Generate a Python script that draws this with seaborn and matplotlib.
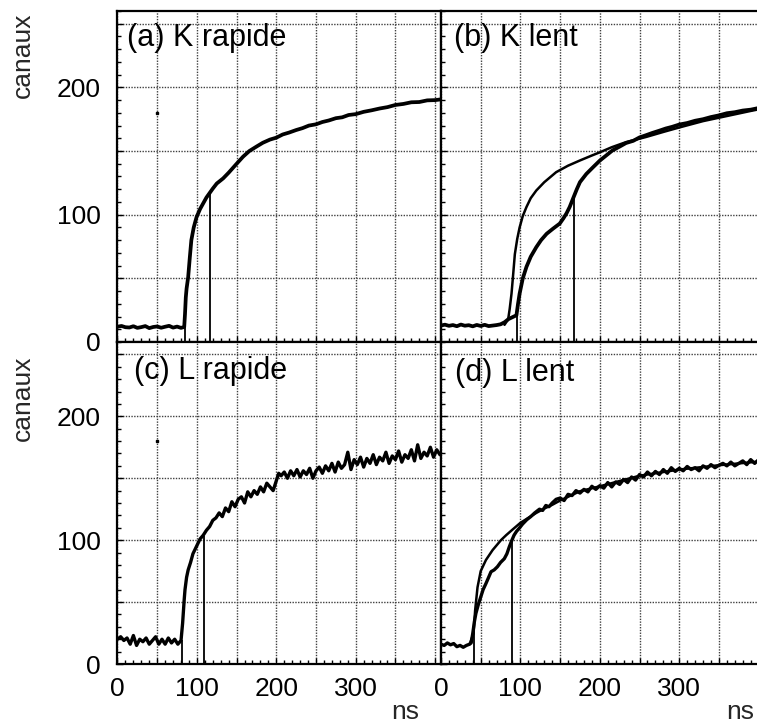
import numpy as np
import pandas as pd
import matplotlib
matplotlib.use("Agg")
import matplotlib.pyplot as plt
from matplotlib.ticker import MultipleLocator, FuncFormatter
import seaborn as sns

# ---------------- data ----------------
# (a) K rapide : measured signal
a_t = [0, 5, 10, 15, 20, 25, 30, 35, 40, 45, 50, 55, 60, 65, 70, 75, 80, 84,
       85, 86, 87, 89, 91, 93, 96, 99.5, 104, 108, 112, 116, 120, 125, 133, 140,
       150, 158, 166, 175, 183, 192, 200, 208, 216, 225, 233, 241, 250, 258, 266,
       275, 283, 291, 300, 310, 320, 330, 340, 350, 360, 370, 380, 390, 400, 410]
a_y = [12.0, 12.6, 11.6, 11.4, 12.4, 11.1, 11.7, 12.5, 10.9, 11.8, 12.2, 11.2, 12.0, 12.7, 11.3, 12.1, 11.1, 11.8,
       22, 35, 42, 51, 66, 80, 90, 98, 104.5, 109, 113.5, 117, 120.5, 124.5, 128.5, 133,
       140, 145.5, 150, 153.5, 156.5, 159, 160.5, 163, 164.5, 166.5, 168, 170, 171, 172.8, 174,
       175.8, 176.5, 178.3, 179, 180.8, 182, 183.4, 184.5, 186.2, 187, 188.3, 188.5, 189.8, 190, 190.8]
a_marks_t = [84.8, 116]
a_marks_y = [11.8, 117]

# (b) K lent : measured signal and fit
b_t = [0, 5, 10, 15, 20, 25, 30, 35, 40, 45, 50, 55, 60, 65, 70, 75, 80, 85, 90, 95,
       97, 99, 103, 107.6, 113, 120, 126, 133, 141, 149.5, 154, 158, 162, 167, 171, 175,
       183, 191, 200, 208, 216, 225, 233, 242, 250, 258, 266, 275, 283, 291, 300, 310,
       320, 330, 340, 350, 360, 370, 380, 390, 400, 410]
b_y = [13.0, 13.6, 12.7, 13.3, 12.4, 13.7, 12.8, 13.2, 12.3, 13.4, 12.6, 13.5, 12.5, 12.9, 13.3, 13.9, 15.5, 18, 19.5, 21,
       30, 38, 50, 59, 67, 74.5, 80, 85, 89, 93, 97, 101, 106, 113.8, 120, 125.6,
       132, 137, 142.5, 146.5, 150.5, 153.5, 156.3, 158, 160.7, 162.4, 164.2, 166, 167.7, 169, 170.8, 172,
       173.8, 175, 176.7, 178, 179.7, 180.5, 181.8, 182.5, 183.8, 184.5]
b_fit_t = [80, 84.6, 86.5, 88.8, 91, 93, 96, 99, 103, 107.6, 113, 120, 130, 145, 160, 175,
           190, 200, 215, 233, 258, 280, 300, 330, 360, 390, 410]
b_fit_y = [13.5, 18, 26, 38, 54, 69, 81, 90, 99, 106, 113, 119, 125.5, 133.4, 138.5, 142.6,
           146.5, 149, 153, 157, 161, 165, 168.5, 173.5, 177.5, 181.5, 184]
b_marks_t = [96.3, 167]
b_marks_y = [21, 113.8]

# (c) L rapide : measured signal
c_t = [0, 4, 8, 12, 16, 20, 24, 28, 32, 36, 40, 44, 48, 52, 56, 60, 64, 68, 72, 76, 80,
       82, 84, 85, 87, 89, 92, 95, 98, 101, 104, 108, 112, 116, 120, 124, 128, 132, 136,
       140, 144, 148, 152, 156, 160, 164, 168, 172, 176, 180, 184, 188, 192, 196, 200,
       203, 206, 210, 214, 218, 222, 226, 230, 234, 238, 242, 246, 250, 254, 258, 262,
       266, 270, 274, 278, 282, 286, 290, 294, 298, 302, 306, 310, 314, 318, 322, 326,
       330, 334, 338, 342, 346, 350, 354, 358, 362, 366, 370, 374, 378, 382, 386, 390,
       394, 398, 402, 406, 410]
c_y = [20, 22, 19, 21, 16, 23, 15, 20, 18, 21, 16, 19, 22, 16, 20, 16, 21, 17, 20, 16, 19,
       33, 52, 60, 70, 76, 82, 89, 93, 97, 101, 104, 108, 111, 116, 118, 122, 119, 126,
       123, 131, 127, 133, 135, 130, 139, 135, 140, 137, 143, 139, 146, 143, 140, 148,
       154, 152, 155, 150, 156, 152, 157, 151, 156, 153, 158, 150, 156, 159, 154, 160,
       156, 162, 155, 163, 158, 161, 171, 157, 165, 161, 167, 159, 166, 162, 169, 161,
       167, 164, 171, 162, 168, 165, 172, 163, 169, 166, 173, 164, 177, 166, 171, 168,
       175, 167, 173, 169, 172]
c_marks_t = [81.3, 108.7]
c_marks_y = [19, 103]

# (d) L lent : measured signal and fit
d_t = [0, 4, 8, 12, 16, 20, 24, 28, 32, 36, 38,
       40, 42, 44, 47, 50, 53, 56.6, 60, 63, 67, 71, 75, 79.7, 83, 86, 89.3, 92, 95, 99,
       102.7, 108, 113, 118, 124, 128, 132, 136, 140, 145, 150, 155, 160, 165, 170, 175,
       180, 185, 190, 195, 200, 205, 210, 215, 220, 225, 230, 235, 240, 245, 250, 255,
       260, 265, 270, 275, 280, 285, 290, 295, 300, 305, 310, 315, 320, 325, 330, 335,
       340, 345, 350, 355, 360, 365, 370, 375, 380, 385, 390, 395, 400, 405, 410]
d_y = [16, 15, 17, 15.5, 16.5, 14, 15, 13.5, 15, 16, 17,
       24.7, 34, 41, 48, 54, 60, 65, 70, 74.5, 76, 78.5, 82, 85, 89, 94.6, 100, 104, 107, 110,
       113, 116.5, 119, 122, 125, 124, 128, 127, 130, 133, 134, 132, 137, 136, 140, 138,
       141, 139, 143.5, 141, 144, 142, 146.5, 143, 147, 145, 149, 146.5, 151, 148.5, 153, 151,
       155, 152, 155.5, 153, 157, 154, 158.5, 155.5, 158, 156, 159.5, 157, 158.5, 156, 160, 158,
       161, 158.5, 160.5, 162, 160, 163, 160, 162, 164, 161, 165, 162, 165, 163, 166]
d_fit_t = [36, 41, 43, 46, 50, 56.6, 65, 75.5, 82, 90, 100, 110, 120, 130, 140, 150,
           175, 200, 250, 300, 350, 410]
d_fit_y = [16, 24.7, 43.5, 62, 75, 84, 92, 100, 104, 108.5, 114, 118, 122, 125.5, 128.5, 132,
           139.5, 143.5, 152, 157, 160.5, 164]
d_marks_t = [41, 89]
d_marks_y = [36, 100]

# isolated dot visible in the left panels
dot_t = [50]
dot_y = [180]

titles = ["(a) K rapide", "(b) K lent", "(c) L rapide", "(d) L lent"]
x_labels_shown = [0, 100, 200, 300]
y_labels_shown = [0, 100, 200]

# ---------------- style ----------------
sns.set_theme(style="ticks")
plt.rcParams['font.family'] = ['Liberation Sans', 'DejaVu Sans']
plt.rcParams['axes.linewidth'] = 1.5

W, H = 757, 724
fig = plt.figure(figsize=(W / 100, H / 100), dpi=100)
fig.patch.set_facecolor("white")

def frac(x0, y_top, w, h):
    return [x0 / W, (H - y_top - h) / H, w / W, h / H]

ax_a = fig.add_axes(frac(117.5, 11, 324, 331))
ax_c = fig.add_axes(frac(117.5, 342, 324, 322))
ax_b = fig.add_axes(frac(441, 11, 324, 331))
ax_d = fig.add_axes(frac(441, 342, 324, 322))

def style_axis(ax, show_x, show_y):
    ax.set_xlim(0, 408)
    ax.set_ylim(0, 260)
    ax.set_facecolor("white")
    ax.xaxis.set_major_locator(MultipleLocator(50))
    ax.yaxis.set_major_locator(MultipleLocator(50))
    ax.xaxis.set_minor_locator(MultipleLocator(10))
    ax.yaxis.set_minor_locator(MultipleLocator(10))
    ax.xaxis.set_major_formatter(FuncFormatter(
        lambda v, p: f"{int(round(v))}" if show_x and int(round(v)) in x_labels_shown else ""))
    ax.yaxis.set_major_formatter(FuncFormatter(
        lambda v, p: f"{int(round(v))}" if show_y and int(round(v)) in y_labels_shown else ""))
    ax.tick_params(which="both", direction="in", top=False, right=False,
                   bottom=True, left=True, color="black", width=1.0)
    ax.tick_params(which="major", length=4, labelsize=19, labelcolor="black")
    ax.tick_params(which="minor", length=3)
    ax.tick_params(axis="y", which="major", pad=12)
    ax.tick_params(axis="x", which="major", pad=9)
    ax.grid(True, which="major", color="0.25", linestyle=(0, (1, 1)), linewidth=1.0)
    ax.set_axisbelow(True)
    for s in ax.spines.values():
        s.set_color("black")
        s.set_linewidth(1.6)
    ax.set_xlabel("")
    ax.set_ylabel("")

def draw(ax, t, y, lw=2.4):
    sns.lineplot(x=t, y=y, ax=ax, color="black", linewidth=lw,
                 estimator=None, sort=False, legend=False)

# (a)
draw(ax_a, a_t, a_y, 2.7)
ax_a.vlines(a_marks_t, 0, a_marks_y, color="black", linewidth=1.3)
ax_a.plot(dot_t, dot_y, "s", color="black", markersize=1.8)
# (b)
draw(ax_b, b_fit_t, b_fit_y, 1.8)
draw(ax_b, b_t, b_y, 2.7)
ax_b.vlines(b_marks_t, 0, b_marks_y, color="black", linewidth=1.3)
# (c)
draw(ax_c, c_t, c_y, 2.4)
ax_c.vlines(c_marks_t, 0, c_marks_y, color="black", linewidth=1.3)
ax_c.plot(dot_t, dot_y, "s", color="black", markersize=1.8)
# (d)
draw(ax_d, d_fit_t, d_fit_y, 1.8)
draw(ax_d, d_t, d_y, 2.4)
ax_d.vlines(d_marks_t, 0, d_marks_y, color="black", linewidth=1.3)

style_axis(ax_a, False, True)
style_axis(ax_b, False, False)
style_axis(ax_c, True, True)
style_axis(ax_d, True, False)

title_pos = {ax_a: (0.028, 0.918), ax_b: (0.04, 0.918), ax_c: (0.052, 0.91), ax_d: (0.044, 0.905)}
for ax, title in zip([ax_a, ax_b, ax_c, ax_d], titles):
    x, y = title_pos[ax]
    ax.text(x, y, title, transform=ax.transAxes, fontsize=22, color="black",
            ha="left", va="center")

fig.text(23 / W, 1 - 55 / H, "canaux", rotation=90, fontsize=19, ha="center", va="center")
fig.text(23 / W, 1 - 398 / H, "canaux", rotation=90, fontsize=19, ha="center", va="center")
fig.text(405 / W, 1 - 712 / H, "ns", fontsize=19, ha="center", va="center")
fig.text(740 / W, 1 - 712 / H, "ns", fontsize=19, ha="center", va="center")

fig.savefig("out.png", dpi=100, facecolor="white")
